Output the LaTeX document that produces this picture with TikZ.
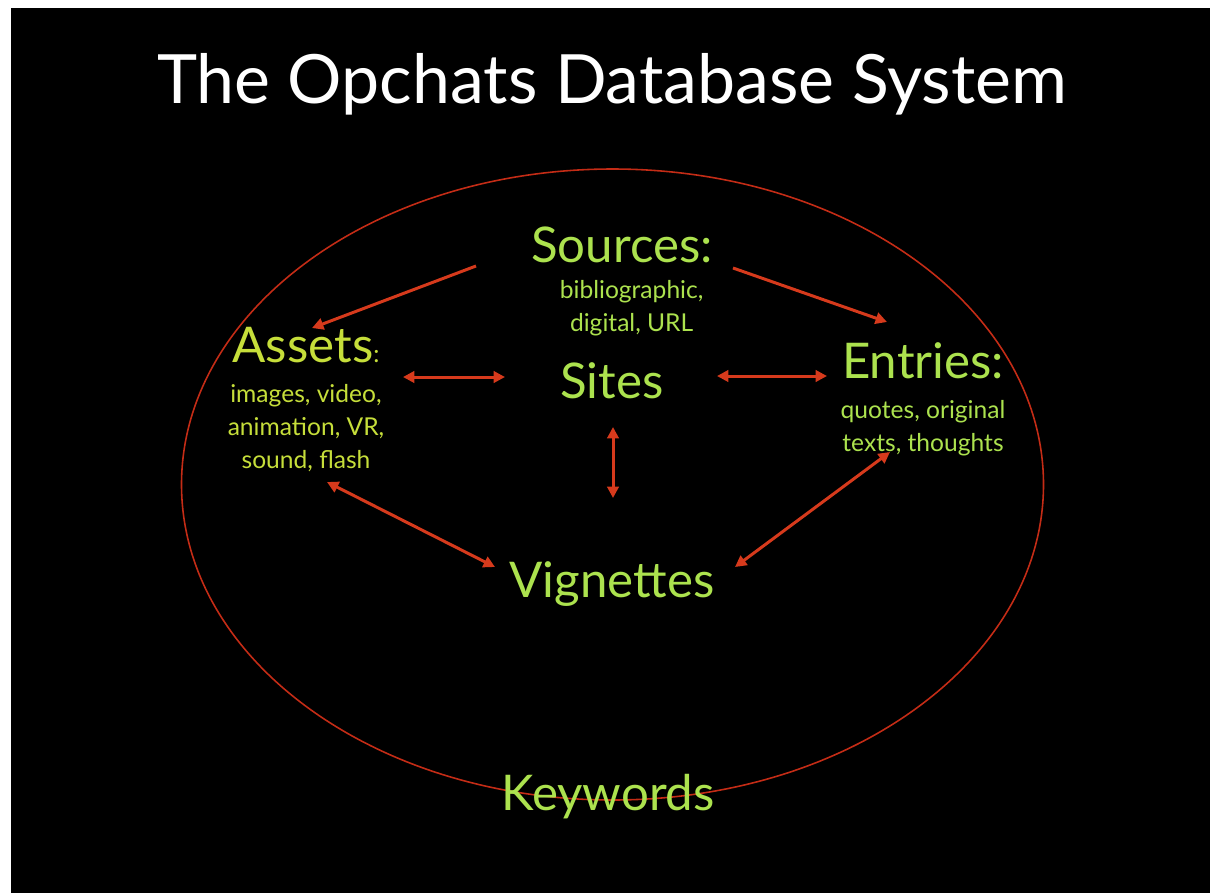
\documentclass[tikz,border=0pt]{standalone}
\usepackage{fontspec}
\setmainfont{Lato}
\usetikzlibrary{positioning,arrows.meta}

\definecolor{lime}{RGB}{172,226,78}
\definecolor{limey}{RGB}{198,222,58}
\definecolor{arrowred}{RGB}{214,58,28}
\definecolor{ringred}{RGB}{196,44,22}

\begin{document}
\begin{tikzpicture}[x=0.02cm, y=-0.02cm, >={Triangle[length=6.5pt,width=6.5pt]},
    big/.style={text=lime, font=\fontsize{28}{32}\selectfont, inner sep=0pt, anchor=base},
    sub/.style={text=lime, font=\fontsize{14}{18.8}\selectfont, align=center, inner sep=0pt},
    link/.style={draw=arrowred, line width=1.7pt}]

    \useasboundingbox (0,0) rectangle (1210,893);
    \fill[white] (0,0) rectangle (1210,893);
    \fill[black] (11,8) rectangle (1210,893);

    \node[anchor=base, text=white, font=\fontsize{38.7}{44}\selectfont, inner sep=0pt] (title) at (612,103) {The Opchats Database System};

    % the outer ring
    \draw[ringred, line width=0.9pt] (612.5,484.5) ellipse [x radius=431, y radius=315.5];

    \node[big] (sources) at (622,262) {Sources:};
    \node[sub, below=10pt of sources, xshift=5.5pt] (srcsub) {bibliographic,\\digital, URL};

    \node[big, text=limey] (assets) at (306,362) {Assets{\fontsize{14}{16}\selectfont:}};
    \node[sub, text=limey, below=12pt of assets] (assub) {images, video,\\animation, VR,\\sound, flash};

    \node[big] (sites) at (612,398) {Sites};

    \node[big] (entries) at (923,378) {Entries:};
    \node[sub, below=12pt of entries] (entsub) {quotes, original\\texts, thoughts};

    \node[big] (vign) at (612,597) {Vignettes};
    \node[big] (keyw) at (608,810) {Keywords};

    \draw[link, ->] ([shift={(-146,4)}]sources.base) -- ([shift={(6,-34)}]assets.base);
    \draw[link, ->] ([shift={(111,6)}]sources.base) -- ([shift={(-36,-56)}]entries.base);
    \draw[link, <->] ([shift={(97,15)}]assets.base) -- ([shift={(-107,-21)}]sites.base);
    \draw[link, <->] ([shift={(105,-22)}]sites.base) -- ([shift={(-96,-2)}]entries.base);
    \draw[link, <->] ([shift={(1,29)}]sites.base) -- ([shift={(1,-99)}]vign.base);
    \draw[link, <->] ([shift={(21,120)}]assets.base) -- ([shift={(-117,-30)}]vign.base);
    \draw[link, <->] ([shift={(123,-30)}]vign.base) -- ([shift={(-33,74)}]entries.base);

\end{tikzpicture}
\end{document}
